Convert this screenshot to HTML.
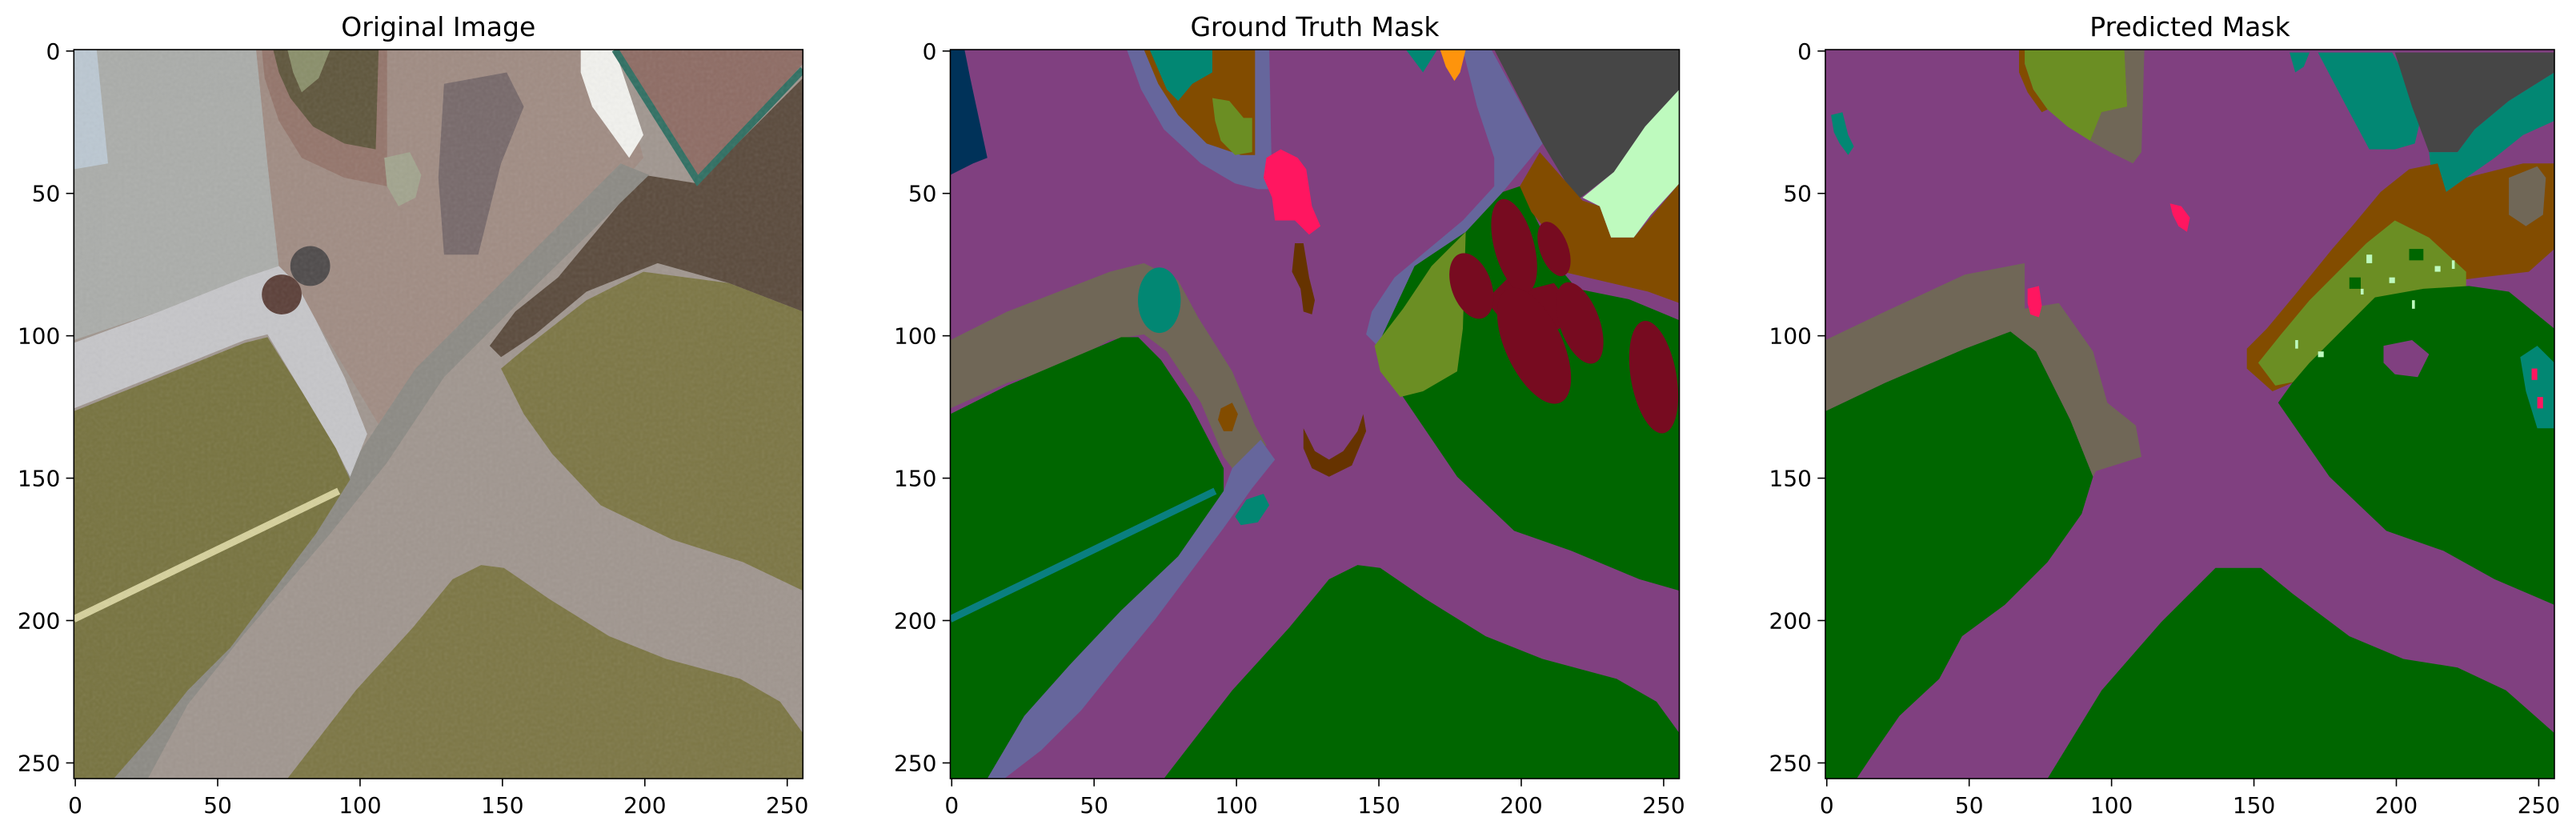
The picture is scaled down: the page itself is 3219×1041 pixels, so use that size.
<!DOCTYPE html>
<html><head><meta charset="utf-8"><style>
html,body{margin:0;padding:0;background:#fff;}
svg{display:block;}
text{font-family:"DejaVu Sans","Liberation Sans",sans-serif;fill:#000;}
</style></head><body>
<svg id="fig" width="3219" height="1041" viewBox="0 0 3219 1041" xmlns="http://www.w3.org/2000/svg">
<defs>
<filter id="grain" x="0" y="0" width="100%" height="100%">
<feTurbulence type="fractalNoise" baseFrequency="0.25" numOctaves="1" seed="3"/>
<feColorMatrix type="saturate" values="0"/>
</filter>
<clipPath id="clip0"><rect x="92.3" y="62" width="911" height="911"/></clipPath>
<clipPath id="clip1"><rect x="1187.5" y="62" width="911" height="911"/></clipPath>
<clipPath id="clip2"><rect x="2281" y="62" width="911" height="911"/></clipPath>
</defs>
</svg>
<script>
// ---- panel info ----
const panelTitles = ["Original Image", "Ground Truth Mask", "Predicted Mask"];
const tickValues = [0, 50, 100, 150, 200, 250];
const tickLabels = ["0", "50", "100", "150", "200", "250"];
const imgSize = 256;

// ---- class colours ----
const classColor = {
  paved:"#804080", dirt:"#824C00", grass:"#006600", gravel:"#706757", pool:"#003259",
  veg:"#6B8E23", roof:"#464646", wall:"#66669C", door:"#FE940C", person:"#FF1660",
  dog:"#663300", bicycle:"#770B20", mint:"#BEFABE", obstacle:"#028773", line:"#0A7F80",
  pGravel:"#A0968F", pGray:"#ABADAA", pBlue:"#BCC8D2", pPink:"#A08C83", pBrick:"#94756B",
  pSoil:"#5F563C", pShrub:"#8A8F6A", pMan:"#A2A48E", pShadow:"#77696A", pWhite:"#F2F2EE",
  pRoof:"#8E6C64", pFence:"#2F6F62", pDark:"#5A4A3C", pConcrete:"#8C8A84", pWhiteGravel:"#C6C6C9",
  pGrass:"#77733F", pGrass2:"#7C7644", pRope:"#D6D19C", pBin:"#5B3F38", pShade:"#4E4A4A"
};

// ---- Original image regions ----
const origLabels = ["pGray","pBlue","pPink","pBrick","pSoil","pShrub","pShadow","pMan","pWhite","pRoof","pDark","pConcrete","pWhiteGravel","pGrass","pGrass2","pGrass2"];
const origPolys = [
  [[0,0],[64,0],[68,40],[72,76],[60,80],[30,92],[0,102]],
  [[0,0],[8,0],[12,40],[0,42]],
  [[64,0],[190,0],[200,38],[185,55],[165,75],[150,90],[130,110],[112,140],[100,120],[88,100],[76,80],[72,76],[68,40]],
  [[66,0],[110,0],[110,48],[95,45],[80,38],[72,25],[67,10]],
  [[70,0],[107,0],[106,35],[95,33],[84,27],[76,17],[72,8]],
  [[75,0],[90,0],[86,10],[80,15],[77,8]],
  [[130,12],[152,8],[158,20],[150,40],[142,72],[130,72],[128,45]],
  [[109,38],[118,36],[122,44],[120,52],[114,55],[110,48]],
  [[178,0],[190,0],[200,30],[195,38],[182,20],[178,8]],
  [[190,0],[256,0],[256,5],[219,46],[208,30]],
  [[200,44],[219,47],[256,10],[256,92],[230,82],[205,75],[180,85],[162,100],[150,108],[146,104],[155,92],[170,80]],
  [[192,40],[202,44],[160,85],[130,115],[110,145],[90,170],[60,205],[40,230],[26,256],[12,256],[30,228],[55,198],[80,168],[100,142],[120,112],[150,82]],
  [[0,103],[30,92],[60,80],[72,76],[78,82],[85,95],[95,115],[103,135],[97,150],[92,140],[80,120],[68,100],[60,102],[20,118],[0,126]],
  [[0,127],[20,119],[60,103],[68,101],[80,120],[92,140],[97,151],[85,170],[70,190],[55,210],[40,225],[28,240],[14,256],[0,256]],
  [[150,112],[162,102],[180,88],[200,78],[230,82],[256,92],[256,190],[235,180],[210,172],[185,160],[168,142],[158,128]],
  [[75,256],[99,225],[119,203],[133,186],[143,181],[151,182],[167,193],[188,206],[208,214],[234,221],[248,229],[256,240],[256,256]]
];
const origLineLabels = ["pRope","pFence"];
const origLines = [
  [[0,200],[93,155]],
  [[190,0],[219,46],[256,7]]
];
const origEllLabels = ["pShade","pBin"];
const origEll = [[83,76,7,7,0],[73,86,7,7,0]];

// ---- Ground truth regions ----
const gtLabels = ["pool","wall","dirt","obstacle","veg","grass","wall","roof","mint","dirt","paved","veg","gravel","grass","wall","grass","dirt","dog","dog","person","obstacle","door","obstacle","bicycle"];
const gtPolys = [
  [[0,0],[5,0],[7,10],[13,38],[8,40],[0,44]],
  [[62,0],[67,14],[75,28],[88,40],[100,47],[108,49],[113,49],[112,0]],
  [[68,0],[73,12],[80,23],[90,33],[102,37],[107,37],[107,0]],
  [[70,0],[92,0],[92,8],[85,12],[80,18],[76,14]],
  [[92,17],[98,18],[103,24],[106,24],[106,36],[100,37],[95,32],[93,25]],
  [[194,50],[200,48],[215,78],[256,95],[256,190],[242,186],[218,176],[198,169],[178,150],[159,122],[150,104],[163,76],[181,64]],
  [[180,0],[190,0],[208,33],[194,50],[181,64],[163,76],[150,104],[146,100],[148,92],[156,80],[168,70],[180,60],[191,48],[191,38],[185,20]],
  [[191,0],[256,0],[256,14],[244,27],[233,43],[220,53],[208,33]],
  [[256,14],[256,47],[246,58],[240,66],[232,66],[228,55],[222,52],[233,43],[244,27]],
  [[207,36],[222,53],[228,55],[232,66],[240,66],[256,47],[256,89],[245,85],[232,82],[215,78],[213,68],[204,57],[200,48]],
  [[215,78],[232,82],[245,85],[256,89],[256,95],[240,88],[220,84]],
  [[149,104],[159,91],[169,76],[181,64],[180,98],[178,113],[166,120],[158,122],[151,113]],
  [[0,102],[20,92],[56,78],[68,75],[80,81],[87,94],[99,113],[107,132],[111,139],[99,147],[96,143],[88,124],[76,106],[68,100],[56,102],[40,111],[20,117],[0,126]],
  [[0,128],[20,118],[60,101],[66,101],[74,109],[84,124],[96,147],[96,155],[80,178],[60,197],[42,216],[26,234],[13,256],[0,256]],
  [[109,137],[114,144],[106,154],[96,168],[84,184],[72,200],[58,217],[46,232],[32,246],[19,256],[13,256],[26,234],[42,216],[60,197],[80,178],[96,155],[99,147]],
  [[75,256],[99,225],[119,203],[133,186],[143,181],[151,182],[167,193],[188,206],[208,214],[234,221],[248,229],[256,240],[256,256]],
  [[95,126],[99,124],[101,128],[99,134],[96,134],[94,130]],
  [[121,68],[124,68],[126,80],[128,88],[127,93],[124,92],[123,84],[120,78]],
  [[124,133],[128,141],[133,144],[138,141],[143,134],[145,128],[146,134],[141,146],[133,150],[127,147],[124,140]],
  [[111,38],[116,35],[122,38],[125,42],[127,55],[130,62],[126,65],[121,60],[114,60],[113,52],[110,45]],
  [[160,0],[171,0],[166,8]],
  [[172,0],[181,0],[179,8],[177,11],[174,6]],
  [[100,164],[104,158],[110,156],[112,160],[108,166],[102,167]],
  [[188,88],[196,80],[204,84],[212,82],[218,90],[214,98],[206,100],[196,98]]
];
const gtEllLabels = ["obstacle","bicycle","bicycle","bicycle","bicycle","bicycle","bicycle"];
const gtEll = [[73.4,88,7.5,11.5,0],[183,83,7,12,-20],[198,69,7,17,-15],[205,104,10,22,-25],[221,96,7,15,-20],[247,115,8,20,-10],[212,70,5,10,-20]];
const gtLineLabels = ["line"];
const gtLines = [[[0,200],[93,155]]];

// ---- Predicted regions ----
const prLabels = ["grass","gravel","veg","gravel","dirt","obstacle","obstacle","roof","obstacle","dirt","gravel","veg","grass","paved","obstacle","grass","obstacle","person","person"];
const prPolys = [
  [[0,127],[21,117],[49,105],[65,99],[74,106],[86,130],[94,150],[90,163],[78,180],[63,195],[48,206],[40,221],[26,234],[17,247],[11,256],[0,256]],
  [[0,102],[21,92],[49,79],[70,75],[70,91],[82,89],[94,106],[99,124],[109,132],[111,143],[95,148],[94,150],[86,130],[74,106],[65,99],[49,105],[21,117],[0,127]],
  [[69,0],[105,0],[106,20],[97,22],[93,32],[85,27],[78,21],[73,14],[70,5]],
  [[105,0],[112,0],[111,36],[108,40],[100,36],[93,32],[97,22],[106,20]],
  [[68,0],[70,0],[70,5],[73,14],[78,21],[76,22],[71,15],[68,8]],
  [[163,1],[170,1],[168,6],[165,8]],
  [[173,1],[199,1],[210,20],[207,33],[200,35],[191,35],[183,20]],
  [[200,1],[256,1],[256,8],[240,18],[228,28],[222,36],[212,36],[206,20]],
  [[212,36],[222,36],[228,28],[240,18],[256,8],[256,25],[245,30],[235,38],[225,45],[218,50],[213,45]],
  [[195,50],[205,42],[215,40],[218,50],[225,45],[245,40],[256,40],[256,70],[247,78],[230,80],[215,82],[200,80],[185,84],[170,95],[164,117],[157,120],[148,112],[148,105],[155,98],[165,86],[178,70],[185,62]],
  [[240,45],[250,41],[253,45],[252,58],[246,62],[240,58]],
  [[152,110],[160,100],[170,88],[180,78],[190,68],[200,60],[212,66],[225,78],[225,92],[212,96],[200,98],[188,100],[178,108],[168,116],[158,118]],
  [[164,117],[170,110],[180,100],[193,87],[210,84],[226,83],[240,85],[256,98],[256,195],[235,186],[217,176],[197,169],[177,150],[159,124]],
  [[196,104],[206,102],[212,107],[208,115],[200,114],[196,110]],
  [[244,108],[250,104],[256,110],[256,133],[250,133],[246,120]],
  [[78,256],[97,225],[118,201],[137,182],[153,182],[164,191],[184,206],[203,214],[222,217],[239,225],[256,240],[256,256]],
  [[2,23],[6,22],[8,30],[10,34],[8,37],[5,33],[3,29]],
  [[71,84],[75,83],[76,90],[75,94],[72,93],[71,89]],
  [[121,54],[125,55],[128,59],[127,64],[124,62],[122,58]]
];
const prSpeckLabels = ["mint","mint","mint","mint","mint","mint","grass","grass","grass","grass","person","person","mint","mint"];
const prSpecks = [[190,72,2,3],[198,80,2,2],[206,88,1,3],[214,76,2,2],[188,84,1,2],[220,74,1,3],[196,90,6,5],[205,70,5,4],[184,80,4,4],[215,88,5,4],[248,112,2,4],[250,122,2,4],[165,102,1,3],[173,106,2,2]];

// ---- drawing ----
const NS = "http://www.w3.org/2000/svg";
const svg = document.getElementById("fig");
const panelX = [92.3, 1187.5, 2281];
const axTop = 62, axSize = 911;
const k = axSize / imgSize;
function sx(p, v){ return panelX[p] + v * k; }
function sy(v){ return axTop + v * k; }
function mk(tag, attrs, parent){
  const e = document.createElementNS(NS, tag);
  for (const a in attrs) e.setAttribute(a, attrs[a]);
  (parent || svg).appendChild(e);
  return e;
}
function drawPolys(p, g, labels, polys){
  polys.forEach((pts, i) => {
    const e = mk("polygon", {points: pts.map(q => sx(p,q[0]).toFixed(1)+","+sy(q[1]).toFixed(1)).join(" "), fill: classColor[labels[i]]}, g);
    
    
  });
}
function drawEll(p, g, labels, ells){
  ells.forEach((d, i) => {
    const cx = sx(p,d[0]), cy = sy(d[1]);
    const e = mk("ellipse", {cx: cx, cy: cy, rx: d[2]*k, ry: d[3]*k, fill: classColor[labels[i]], transform: "rotate("+d[4]+" "+cx+" "+cy+")"}, g);
    
    
  });
}
function drawLines(p, g, labels, lines, w){
  lines.forEach((pts, i) => {
    const e = mk("polyline", {points: pts.map(q => sx(p,q[0]).toFixed(1)+","+sy(q[1]).toFixed(1)).join(" "), fill:"none", stroke: classColor[labels[i]], "stroke-width": w*k}, g);
    
    
  });
}

for (let p = 0; p < 3; p++){
  const g = mk("g", {"clip-path": "url(#clip"+p+")"});
  
  
  const bg = p === 0 ? classColor.pGravel : classColor.paved;
  const r = mk("rect", {x: sx(p,0), y: sy(0), width: axSize, height: axSize, fill: bg}, g);
  
  
  if (p === 0){
    drawPolys(0, g, origLabels, origPolys);
    drawEll(0, g, origEllLabels, origEll);
    drawLines(0, g, origLineLabels, origLines, 2.5);
    const n = mk("rect", {x: sx(p,0), y: sy(0), width: axSize, height: axSize, filter:"url(#grain)", opacity:"0.12"}, g);
    
    
  } else if (p === 1){
    drawPolys(1, g, gtLabels, gtPolys);
    drawEll(1, g, gtEllLabels, gtEll);
    drawLines(1, g, gtLineLabels, gtLines, 2.5);
  } else {
    drawPolys(2, g, prLabels, prPolys);
    prSpecks.forEach((d, i) => {
      const e = mk("rect", {x: sx(2,d[0]), y: sy(d[1]), width: d[2]*k, height: d[3]*k, fill: classColor[prSpeckLabels[i]]}, g);
      
      
    });
  }
  const f = mk("rect", {x: sx(p,0), y: sy(0), width: axSize, height: axSize, fill:"none", stroke:"#000", "stroke-width":"1.6"});
  
  
  const t = mk("text", {x: sx(p,128), y: 45, "text-anchor":"middle", "font-size":"33"});
  t.textContent = panelTitles[p];
  
  
  tickValues.forEach((v, i) => {
    const px = sx(p, v + 0.5), py = sy(v + 0.5);
    const xt = mk("line", {x1: px, x2: px, y1: axTop+axSize, y2: axTop+axSize+9.7, stroke:"#000", "stroke-width":"1.6"});
    
    
    const xl = mk("text", {x: px, y: 1016, "text-anchor":"middle", "font-size":"28"});
    xl.textContent = tickLabels[i];
    
    
    const yt = mk("line", {x1: panelX[p]-9.7, x2: panelX[p], y1: py, y2: py, stroke:"#000", "stroke-width":"1.6"});
    
    
    const yl = mk("text", {x: panelX[p]-17, y: py+10, "text-anchor":"end", "font-size":"28"});
    yl.textContent = tickLabels[i];
    
    
  });
}
</script>
</body></html>
